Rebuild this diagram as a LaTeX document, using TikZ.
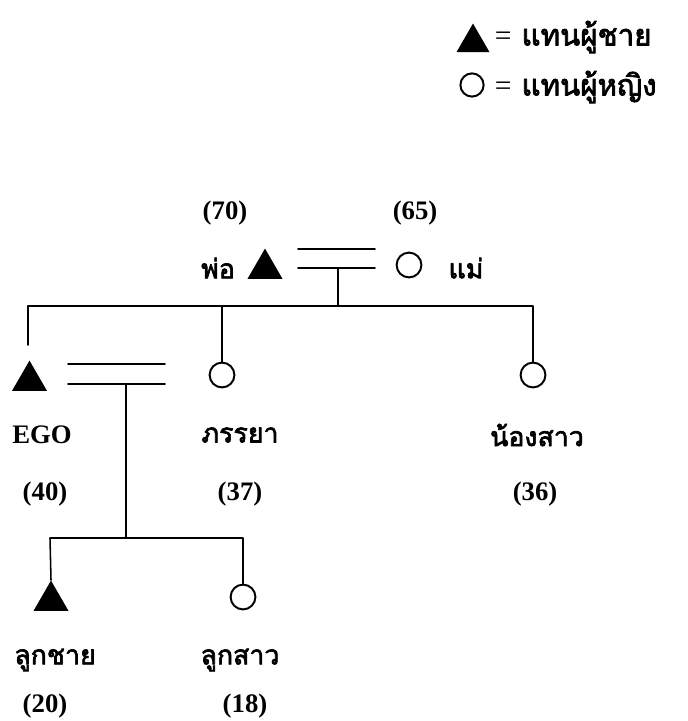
\documentclass[tikz,border=0pt]{standalone}
\usepackage{fontspec}
\setmainfont{Liberation Serif}
\newfontfamily\thaifont[Script=Thai,AutoFakeBold=2.5]{Loma}
\usetikzlibrary{shapes.geometric}
\usetikzlibrary{positioning}

\tikzset{
  male/.style={regular polygon,regular polygon sides=3,fill=black,inner sep=0pt,minimum size=1.01cm,anchor=corner 1},
  female/.style={circle,draw,line width=1.4pt,inner sep=0pt,minimum size=0.62cm},
  kin/.style={line width=1.1pt},
  age/.style={font=\bfseries\fontsize{19}{19}\selectfont},
  thai/.style={font=\thaifont\bfseries\fontsize{19}{19}\selectfont},
  legendthai/.style={font=\thaifont\bfseries\fontsize{21}{21}\selectfont}
}

\begin{document}
\begin{tikzpicture}[line cap=round,line join=round,x=0.025cm,y=-0.025cm]
\useasboundingbox (0,0) rectangle (688,721);
% legend
\node[male,minimum size=0.95cm] (lgmale) at (473,23) {};
\node[legendthai,anchor=west] (lgmaletxt) at (490,37) {{\normalfont\fontsize{21}{21}\selectfont =} แทนผู้ชาย};
\node[female,minimum size=0.58cm] (lgfemale) at (472,85) {};
\node[legendthai,anchor=west] (lgfemaletxt) at (490,87) {{\normalfont\fontsize{21}{21}\selectfont =} แทนผู้หญิง};
% parents
\node[age] (agefa) at (225,213) {(70)};
\node[age] (agemo) at (415,213) {(65)};
\node[male] (father) at (265,248) {};
\node[thai] (fatxt) at (218,268) {พ่อ};
\node[female] (mother) at (409,265) {};
\node[thai] (motxt) at (466,268) {แม่};
\coordinate (pmA) at (298,249);
\coordinate (pmB) at (375,249);
\coordinate (pmC) at (298,268);
\coordinate (pmD) at (375,268);
\coordinate (pmE) at (338,268);
\coordinate (sibL) at (28,306);
\coordinate (sibR) at (533,306);
\draw[kin] (pmA) -- (pmB);
\draw[kin] (pmC) -- (pmD);
\draw[kin] (pmE) -- (pmE |- sibL);
% children of parents
\node[male] (ego) at (29.5,360) {};
\node[female] (wife) at (222,375) {};
\node[female] (sister) at (533,375) {};
\coordinate (egoup) at (28,345);
\draw[kin] (egoup) -- (sibL) -- (sibR) -- (sister.north);
\draw[kin] (wife.north) -- (wife.north |- sibL);
\node[age] (egotxt) at (42,435) {EGO};
\node[thai] (wifetxt) at (240,435) {ภรรยา};
\node[thai] (sistxt) at (537,435) {น้องสาว};
\node[age] (ageego) at (45,494) {(40)};
\node[age] (agewife) at (240,494) {(37)};
\node[age] (agesis) at (535,494) {(36)};
% ego marriage
\coordinate (emA) at (68,364);
\coordinate (emB) at (165,364);
\coordinate (emC) at (68,384);
\coordinate (emD) at (165,384);
\coordinate (emE) at (126,384);
\coordinate (chL) at (50,538);
\coordinate (chR) at (243,538);
\draw[kin] (emA) -- (emB);
\draw[kin] (emC) -- (emD);
\draw[kin] (emE) -- (emE |- chL);
% grandchildren
\node[male] (son) at (51,580) {};
\node[female] (daughter) at (243,597) {};
\draw[kin] (son.corner 1) -- (chL) -- (chR) -- (daughter.north);
\node[thai] (sontxt) at (55,660) {ลูกชาย};
\node[thai] (dautxt) at (240,660) {ลูกสาว};
\node[age] (ageson) at (45,706) {(20)};
\node[age] (agedau) at (245,706) {(18)};
\end{tikzpicture}
\end{document}
